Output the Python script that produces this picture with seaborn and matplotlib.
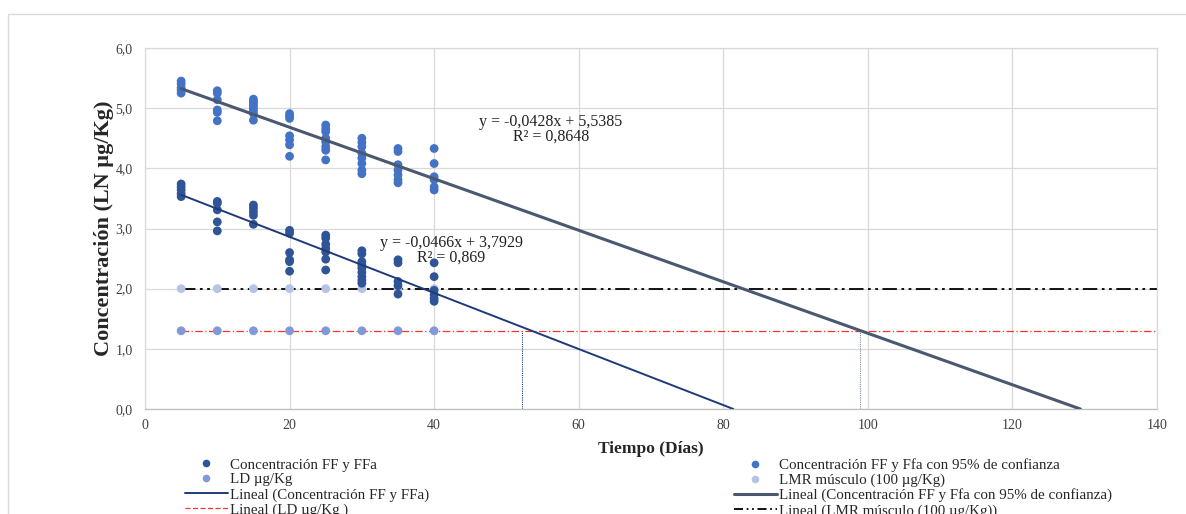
import numpy as np
import pandas as pd
import matplotlib
matplotlib.use("Agg")
import matplotlib.pyplot as plt
from matplotlib.lines import Line2D
from matplotlib.patches import Rectangle
from matplotlib.ticker import FuncFormatter
import seaborn as sns

# ---------------- data ----------------
days = [5, 10, 15, 20, 25, 30, 35, 40]

ff_ffa = [
    [3.74, 3.69, 3.64, 3.58, 3.53],
    [3.45, 3.42, 3.31, 3.11, 2.96],
    [3.39, 3.34, 3.28, 3.22, 3.07],
    [2.97, 2.92, 2.60, 2.48, 2.45, 2.29],
    [2.89, 2.84, 2.74, 2.67, 2.61, 2.49, 2.31],
    [2.63, 2.58, 2.45, 2.39, 2.34, 2.27, 2.20, 2.14, 2.09],
    [2.48, 2.43, 2.12, 2.05, 1.91],
    [2.43, 2.20, 1.97, 1.90, 1.84, 1.79],
]

ff_ffa_95 = [
    [5.45, 5.40, 5.34, 5.30, 5.25],
    [5.29, 5.25, 5.14, 4.97, 4.93, 4.79],
    [5.15, 5.11, 5.08, 5.04, 5.00, 4.96, 4.91, 4.80],
    [4.91, 4.87, 4.83, 4.54, 4.47, 4.39, 4.20],
    [4.72, 4.66, 4.61, 4.50, 4.44, 4.36, 4.30, 4.14],
    [4.50, 4.43, 4.36, 4.25, 4.17, 4.08, 3.97, 3.91],
    [4.33, 4.28, 4.06, 3.97, 3.89, 3.81, 3.76],
    [4.33, 4.08, 3.86, 3.81, 3.69, 3.64],
]

ld_value = 1.30      # LD µg/Kg (log)
lmr_value = 2.00     # LMR músculo 100 µg/Kg (log)

fit_ff = (-0.0466, 3.7929, 0.869)
fit_95 = (-0.0428, 5.5385, 0.8648)

cross_days = [52.2, 98.96]   # vertical guides where fits reach LD

x_ticks = [0, 20, 40, 60, 80, 100, 120, 140]
y_ticks = [0, 1, 2, 3, 4, 5, 6]

lbl_ff = "Concentración FF y FFa"
lbl_95 = "Concentración FF y Ffa con 95% de confianza"
lbl_ld = "LD µg/Kg"
lbl_lmr = "LMR músculo (100 µg/Kg)"

# ---------------- styling ----------------
sns.set_theme(style="whitegrid")
plt.rcParams["font.family"] = ["Liberation Serif", "DejaVu Serif"]

c_ff = "#2F5597"
c_95 = "#4472C4"
c_ld = "#7F99D9"
c_lmr = "#B4C3E6"
c_line_ff = "#1F3A7A"
c_line_95 = "#4A5870"
c_red = "#FF3030"
grid_c = "#D9D9D9"

W, H = 1186, 514
fig = plt.figure(figsize=(W / 100, H / 100), dpi=100)
ax = fig.add_axes([145 / W, 1 - 409 / H, (1157 - 145) / W, (409 - 48) / H])

def long_df(values, label):
    rows = []
    for d, vals in zip(days, values):
        for v in vals:
            rows.append((d, v, label))
    return pd.DataFrame(rows, columns=["dia", "conc", "serie"])

df_ff = long_df(ff_ffa, lbl_ff)
df_95 = long_df(ff_ffa_95, lbl_95)
df_ld = pd.DataFrame({"dia": days, "conc": [ld_value] * len(days)})
df_lmr = pd.DataFrame({"dia": days, "conc": [lmr_value] * len(days)})

# reference lines
x_end = x_ticks[-1]
ax.plot([days[0], x_end], [ld_value, ld_value], color=c_red, lw=0.9,
        dashes=[6, 2, 1, 2], zorder=2)
ax.plot([days[0], x_end], [lmr_value, lmr_value], color="black", lw=1.3,
        dashes=[8, 2.5, 1.5, 2.5, 1.5, 2.5], zorder=2)

# points
ms = 40
sns.scatterplot(data=df_lmr, x="dia", y="conc", color=c_lmr, s=ms, edgecolor="none", ax=ax, zorder=3)
sns.scatterplot(data=df_ld, x="dia", y="conc", color=c_ld, s=ms, edgecolor="none", ax=ax, zorder=3)
sns.scatterplot(data=df_95, x="dia", y="conc", color=c_95, s=ms, edgecolor="none", ax=ax, zorder=3)
sns.scatterplot(data=df_ff, x="dia", y="conc", color=c_ff, s=ms, edgecolor="none", ax=ax, zorder=3)

# trend lines (from the equations shown on the chart)
for (m, b, _), col, lw in [(fit_ff, c_line_ff, 1.4), (fit_95, c_line_95, 2.2)]:
    xe = -b / m
    xs = np.array([days[0], xe])
    ax.plot(xs, m * xs + b, color=col, lw=lw, zorder=4)

# vertical guides
for xv, col in zip(cross_days, [c_line_ff, "#7F8BA0"]):
    ax.plot([xv, xv], [0, ld_value], color=col, lw=0.8, ls=(0, (1, 1)), zorder=2)

# equations
def eq_text(m, b, r2, xpx, ypx):
    s1 = "y = " + f"{m:.4f}".replace(".", ",") + "x + " + f"{b:.4f}".replace(".", ",")
    s2 = "R² = " + f"{r2}".replace(".", ",")
    fig.text(xpx / W, 1 - ypx / H, s1, ha="center", va="center", fontsize=11.5, color="#222222")
    fig.text(xpx / W, 1 - (ypx + 15) / H, s2, ha="center", va="center", fontsize=11.5, color="#222222")

eq_text(*fit_95, 551, 122)
eq_text(*fit_ff, 451, 243)

# axes
ax.set_xlim(x_ticks[0], x_ticks[-1])
ax.set_ylim(y_ticks[0], y_ticks[-1])
ax.set_xticks(x_ticks)
ax.set_yticks(y_ticks)
ax.yaxis.set_major_formatter(FuncFormatter(lambda v, p: f"{v:.1f}".replace(".", ",")))
ax.tick_params(axis="both", length=0, labelsize=10, colors="#404040")
ax.tick_params(axis="x", pad=7.5)
ax.tick_params(axis="y", pad=9)
ax.grid(True, color=grid_c, lw=0.9)
for sp in ax.spines.values():
    sp.set_color(grid_c)
    sp.set_linewidth(0.9)
ax.spines["bottom"].set_color("#BFBFBF")
ax.set_xlabel("Tiempo (Días)", fontsize=12.5, fontweight="bold", labelpad=6)
ax.set_ylabel("Concentración (LN µg/Kg)", fontsize=16, fontweight="bold", labelpad=1)

# legends
def leg(handles, labels, xpx):
    fig.legend(handles, labels, loc="upper left", bbox_to_anchor=(xpx / W, 1 - 458 / H),
               frameon=False, fontsize=10.8, handlelength=2.85, handletextpad=0.12,
               labelspacing=0.1, borderpad=0, borderaxespad=0)

mk = dict(marker="o", ls="none", markersize=5.5, markeredgewidth=0)
h_ff = Line2D([], [], color=c_ff, **mk)
h_95 = Line2D([], [], color=c_95, **mk)
h_ld = Line2D([], [], color=c_ld, **mk)
h_lmr = Line2D([], [], color=c_lmr, **mk)
h_lff = Line2D([], [], color=c_line_ff, lw=1.4)
h_l95 = Line2D([], [], color=c_line_95, lw=2.2)
h_lld = Line2D([], [], color=c_red, lw=0.9, dashes=[4, 2])
h_llmr = Line2D([], [], color="black", lw=1.3, dashes=[5, 2, 1, 2, 1, 2])

leg([h_ff, h_ld, h_lff, h_lld],
    [lbl_ff, lbl_ld, "Lineal (" + lbl_ff + ")", "Lineal (" + lbl_ld + " )"], 185)
leg([h_95, h_lmr, h_l95, h_llmr],
    [lbl_95, lbl_lmr, "Lineal (" + lbl_95 + ")", "Lineal (" + lbl_lmr + ")"], 734)

# chart-area frame
fig.patches.append(Rectangle((8 / W, -0.2), 1.2, 1 - 14 / H + 0.2, transform=fig.transFigure,
                             fill=False, edgecolor=grid_c, lw=1.0, clip_on=False))

fig.savefig("out.png", dpi=100)
